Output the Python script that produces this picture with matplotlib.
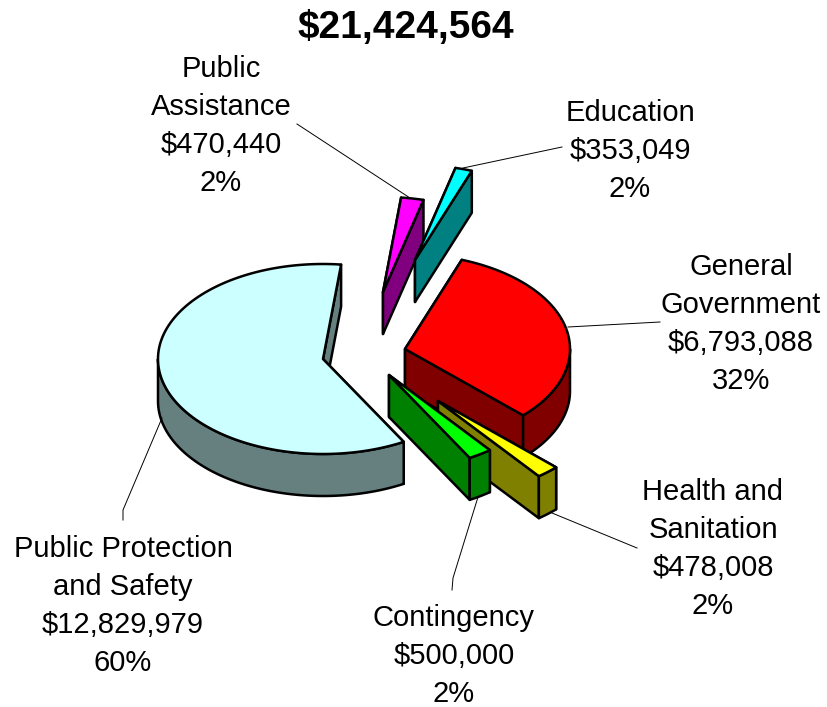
import numpy as np
import matplotlib
matplotlib.use('Agg')
import matplotlib.pyplot as plt
from matplotlib.patches import Polygon

plt.rcParams['font.family'] = ['Liberation Sans', 'DejaVu Sans']

title = '$21,424,564'
categories = ['Public\nAssistance', 'Education', 'General\nGovernment',
              'Health and\nSanitation', 'Contingency', 'Public Protection\nand Safety']
values = [470440, 353049, 6793088, 478008, 500000, 12829979]
percents = ['2%', '2%', '32%', '2%', '2%', '60%']

top_colors = ['#FF00FF', '#00FFFF', '#FF0000', '#FFFF00', '#00FF00', '#CCFFFF']
side_colors = ['#800080', '#008080', '#800000', '#808000', '#008000', '#668080']

# pixel positions of each exploded slice's apex and of its label
apexes = [(383, 292), (415, 260), (405, 349), (438, 401), (389, 375), (323, 359)]
label_pos = [(221, 126), (630, 151), (741, 324), (713, 549), (454, 656), (123, 606)]
leaders = [[(297, 124), (410, 198)],
           [(562, 147), (463, 168)],
           [(660, 322), (568, 327)],
           [(637, 548), (552, 513)],
           [(452, 590), (453, 578), (478, 497)],
           [(123, 520), (123, 510), (162, 418)]]

RX, RY = 165, 95
DEPTH = 42
START = 6.3
EDGE = 1.8


def rim(a0, a1, cx, cy):
    # angles are clockwise from the top of the pie
    t = np.radians(np.linspace(a0, a1, max(int(a1 - a0) * 2, 4)))
    return np.column_stack([cx + RX * np.sin(t), cy - RY * np.cos(t)])


def draw_slice(ax, a0, a1, apex, top, side):
    cx, cy = apex
    arc = rim(a0, a1, cx, cy)
    down = np.array([0, DEPTH])
    walls = []
    # the two flat cut faces
    for p in (arc[0], arc[-1]):
        q = np.array(apex, dtype=float)
        walls.append(np.array([q, p, p + down, q + down]))
    walls.sort(key=lambda w: w[:, 1].mean())
    # outer wall, only the part facing the viewer
    lo, hi = max(a0, 90), min(a1, 270)
    if lo < hi:
        front = rim(lo, hi, cx, cy)
        walls.append(np.vstack([front, front[::-1] + down]))
    for w in walls:
        ax.add_patch(Polygon(w, closed=True, fc=side, ec='black', lw=EDGE, joinstyle='round'))
    ax.add_patch(Polygon(np.vstack([[apex], arc]), closed=True, fc=top, ec='black',
                         lw=EDGE, joinstyle='round'))


fig = plt.figure(figsize=(8.27, 7.07), dpi=100)
ax = fig.add_axes([0, 0, 1, 1])
ax.set_xlim(0, 827)
ax.set_ylim(707, 0)
ax.axis('off')

angles = START + np.concatenate([[0], np.cumsum(values)]) / sum(values) * 360

for i in range(len(values)):
    draw_slice(ax, angles[i], angles[i + 1], apexes[i], top_colors[i], side_colors[i])

for pts in leaders:
    xs, ys = zip(*pts)
    ax.plot(xs, ys, color='black', lw=0.7, zorder=1)

for name, val, pct, (x, y) in zip(categories, values, percents, label_pos):
    ax.text(x, y, '{0}\n${1:,}\n{2}'.format(name, val, pct), ha='center', va='center',
            fontsize=21, linespacing=1.45, color='black')

ax.text(406, 28, title, ha='center', va='center', fontsize=28, fontweight='bold')

fig.savefig('out.png', dpi=100)
